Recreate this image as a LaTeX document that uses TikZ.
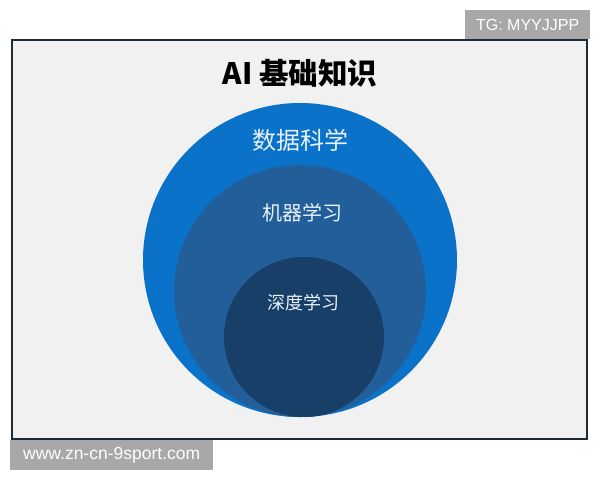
\documentclass[tikz,border=0pt]{standalone}
\usepackage{fontspec}
\setmainfont{Liberation Sans}
\newfontfamily\cjk{Noto Sans CJK SC}
\definecolor{panelbg}{HTML}{F1F1F1}
\definecolor{panelline}{HTML}{1C2B36}
\definecolor{bigblue}{HTML}{0B72C9}
\definecolor{midblue}{HTML}{215E9A}
\definecolor{darkblue}{HTML}{183F68}
\definecolor{lbltext}{HTML}{E8F2FA}
\definecolor{tagbg}{HTML}{A8A8A8}
\tikzset{
  ring/.style={circle, inner sep=0pt, draw=none},
  lbl/.style={text=lbltext, font=\cjk, inner sep=0pt},
  tag/.style={fill=tagbg, text=white, inner sep=0pt, anchor=north west}
}
\begin{document}
\begin{tikzpicture}[x=1pt,y=-1pt]
\useasboundingbox (0,0) rectangle (600,480);
\fill[white] (0,0) rectangle (600,480);
% panel
\draw[fill=panelbg, draw=panelline, line width=1.5pt] (12,40) rectangle (587,439);
% circles
\node[ring, fill=bigblue, minimum size=314pt] (ds) at (300,260) {};
\node[ring, fill=midblue, minimum size=252pt] (ml) at (300,291) {};
\node[ring, fill=darkblue, minimum size=160pt] (dl) at (304,337) {};
% labels
\node[font=\cjk\bfseries\fontsize{29.5}{31}\selectfont, inner sep=0pt] (title) at (300,73) {AI 基础知识};
\node[lbl, font=\cjk\fontsize{24}{26}\selectfont] (tds) at (300,140) {数据科学};
\node[lbl, font=\cjk\fontsize{20}{22}\selectfont] (tml) at (302,213) {机器学习};
\node[lbl, font=\cjk\fontsize{18}{20}\selectfont] (tdl) at (303.5,303) {深度学习};
% tags
\node[tag, minimum width=125pt, minimum height=29pt] (tg) at (465,10) {};
\node[text=white, font=\fontsize{16}{18}\selectfont, inner sep=0pt] (tgt) at (tg.center) {TG: MYYJJPP};
\node[tag, minimum width=203pt, minimum height=30pt] (www) at (10,440) {};
\node[text=white, font=\fontsize{17.5}{20}\selectfont, inner sep=0pt] (wwwt) at (www.center) {www.zn-cn-9sport.com};
\end{tikzpicture}
\end{document}
